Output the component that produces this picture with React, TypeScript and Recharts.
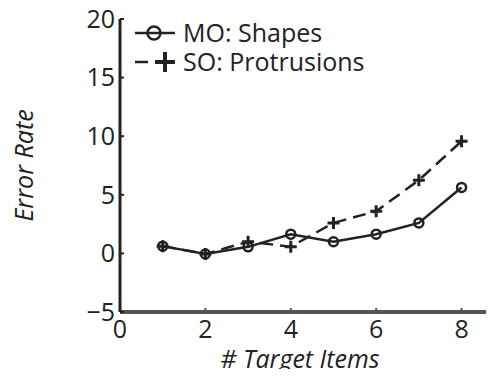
import { LineChart, Line, XAxis, YAxis } from "recharts";

const targetItems = [1, 2, 3, 4, 5, 6, 7, 8];
const moShapes = [0.62, -0.05, 0.56, 1.64, 0.99, 1.64, 2.6, 5.63];
const soProtrusions = [0.62, -0.05, 1.0, 0.57, 2.6, 3.6, 6.25, 9.57];
const xTicks = [0, 2, 4, 6, 8];
const yTicks = [-5, 0, 5, 10, 15, 20];

const series = [
  { key: "mo", name: "MO: Shapes", marker: "circle", dash: undefined },
  { key: "so", name: "SO: Protrusions", marker: "plus", dash: "13 7" },
];

const INK = "#222";
const FONT = "'Open Sans', sans-serif";
const FS = 25;

const data = targetItems.map((x, i) => ({
  x,
  mo: moShapes[i],
  so: soProtrusions[i],
}));

const PlusDot = (props: any) => {
  const { cx, cy } = props;
  if (cx == null || cy == null) return null;
  return (
    <path
      d={`M${cx - 6},${cy}H${cx + 6}M${cx},${cy - 6}V${cy + 6}`}
      stroke={INK}
      strokeWidth={3}
      strokeDasharray="none"
      fill="none"
    />
  );
};

const LegendBox = () => (
  <div
    style={{
      position: "absolute",
      left: 133,
      top: 18,
      fontFamily: FONT,
      fontSize: FS,
      color: INK,
    }}
  >
    {series.map((s) => (
      <div key={s.key} style={{ display: "flex", alignItems: "center", height: 29 }}>
        <svg width={46} height={24} style={{ marginRight: 4 }}>
          {s.marker === "circle" ? (
            <>
              <line x1={2} y1={12} x2={42} y2={12} stroke={INK} strokeWidth={2.5} />
              <circle cx={21} cy={12} r={6.5} fill="none" stroke={INK} strokeWidth={2.5} />
            </>
          ) : (
            <>
              <line x1={2} y1={12} x2={15} y2={12} stroke={INK} strokeWidth={2.5} />
              <path d="M22,12H42M32,2V22" stroke={INK} strokeWidth={4} fill="none" />
            </>
          )}
        </svg>
        <span style={{ lineHeight: "25px" }}>{s.name}</span>
      </div>
    ))}
  </div>
);

const YLabel = (props: any) => {
  const { viewBox } = props;
  const cx = 23;
  const cy = viewBox.y + viewBox.height / 2;
  return (
    <text
      x={cx}
      y={cy}
      transform={`rotate(-90 ${cx} ${cy})`}
      textAnchor="middle"
      dominantBaseline="central"
      fontFamily={FONT}
      fontSize={FS}
      fontStyle="italic"
      fill={INK}
    >
      Error Rate
    </text>
  );
};

const XLabel = (props: any) => {
  const { viewBox } = props;
  return (
    <text
      x={viewBox.x + viewBox.width / 2 - 7}
      y={viewBox.y + viewBox.height - 9}
      textAnchor="middle"
      fontFamily={FONT}
      fontSize={FS}
      fontStyle="italic"
      fill={INK}
    >
      # Target Items
    </text>
  );
};

export default function App() {
  return (
    <div
      style={{
        position: "relative",
        margin: -8,
        width: 494,
        height: 377,
        background: "#fff",
      }}
    >
      <LineChart
        width={494}
        height={377}
        data={data}
        margin={{ top: 19, right: 0, bottom: 0, left: 0 }}
      >
        <XAxis
          dataKey="x"
          type="number"
          domain={[0, 8.76]}
          ticks={xTicks}
          allowDataOverflow
          height={65}
          axisLine={{ stroke: "#555", strokeWidth: 4 }}
          tickLine={{ stroke: "#555", strokeWidth: 2 }}
          tickSize={-4}
          tickMargin={12}
          tick={{ fill: INK, fontFamily: FONT, fontSize: FS }}
          label={<XLabel />}
        />
        <YAxis
          type="number"
          domain={[-5, 20]}
          ticks={yTicks}
          width={120}
          axisLine={{ stroke: INK, strokeWidth: 3 }}
          tickLine={{ stroke: INK, strokeWidth: 2 }}
          tickSize={-4}
          tickMargin={9}
          tick={{ fill: INK, fontFamily: FONT, fontSize: FS }}
          tickFormatter={(v: number) => (v < 0 ? `\u2212${Math.abs(v)}` : `${v}`)}
          label={<YLabel />}
        />
        <Line
          dataKey="mo"
          name={series[0].name}
          stroke={INK}
          strokeWidth={2.5}
          dot={{ r: 4.5, fill: "none", stroke: INK, strokeWidth: 2.5 }}
          activeDot={false}
          isAnimationActive={false}
        />
        <Line
          dataKey="so"
          name={series[1].name}
          stroke={INK}
          strokeWidth={2.5}
          strokeDasharray={series[1].dash}
          dot={<PlusDot />}
          activeDot={false}
          isAnimationActive={false}
        />
      </LineChart>
      <LegendBox />
    </div>
  );
}
